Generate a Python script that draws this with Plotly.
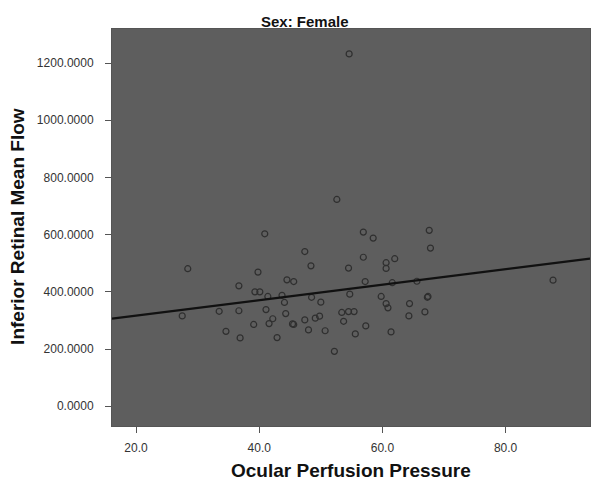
import plotly.graph_objects as go
import numpy as np

# Ocular Perfusion Pressure (x) and Inferior Retinal Mean Flow (y)
opp = [54.6, 52.6, 40.9, 47.4, 48.4, 56.9, 58.5, 67.6, 67.8, 56.9,
       60.6, 62.0, 60.6, 54.5, 28.4, 39.8, 44.5, 45.6, 36.7, 57.2,
       61.6, 65.6, 87.7, 39.3, 40.1, 41.4, 43.7, 44.1, 48.5, 50.0,
       54.7, 59.8, 60.6, 60.9, 64.4, 67.3, 67.4, 27.5, 33.5, 36.7,
       41.1, 44.3, 42.2, 41.6, 39.1, 45.4, 45.6, 47.4, 49.1, 49.8,
       53.4, 54.5, 55.4, 53.7, 64.3, 66.9, 34.6, 36.9, 42.9, 48.0,
       50.7, 55.6, 57.3, 61.4, 52.2]
flow = [1232, 723, 603, 541, 491, 609, 588, 615, 553, 521,
        502, 516, 482, 483, 481, 469, 442, 436, 421, 436,
        432, 437, 441, 400, 400, 384, 388, 363, 381, 364,
        392, 384, 359, 344, 359, 381, 384, 316, 332, 334,
        338, 324, 306, 289, 286, 288, 286, 302, 308, 315,
        328, 331, 331, 297, 316, 330, 262, 239, 240, 267,
        264, 253, 281, 260, 192]

# Fit line
fit_intercept = 262.5
fit_slope = 2.71

x_range = [16.1, 93.7]
y_range = [-69, 1319]

fit_x = np.array(x_range)
fit_y = fit_intercept + fit_slope * fit_x

fig = go.Figure()
fig.add_trace(go.Scatter(
    x=opp, y=flow, mode="markers",
    marker=dict(symbol="circle-open", size=6, color="#2f2f2f", line=dict(width=1.2)),
    showlegend=False, hoverinfo="x+y"))
fig.add_trace(go.Scatter(
    x=fit_x, y=fit_y, mode="lines",
    line=dict(color="#111111", width=2.2),
    showlegend=False, hoverinfo="skip"))

axis_common = dict(showgrid=False, zeroline=False, ticks="outside", ticklen=6,
                   tickwidth=1, tickcolor="#555555", showline=True, linecolor="#555555",
                   linewidth=1, mirror=True, automargin=False,
                   tickfont=dict(family="Liberation Sans, Arial", size=12, color="#333333"))

fig.update_layout(
    width=592, height=480,
    margin=dict(l=112, r=2, t=29, b=54),
    paper_bgcolor="white", plot_bgcolor="#5e5e5e",
    xaxis=dict(range=x_range, tickvals=[20, 40, 60, 80], tickformat=".1f",
               ticklabelstandoff=5, **axis_common),
    yaxis=dict(range=y_range, tickvals=[0, 200, 400, 600, 800, 1000, 1200], tickformat=".4f",
               ticklabelstandoff=9, **axis_common),
    annotations=[
        dict(text="<b>Sex: Female</b>", xref="paper", yref="paper", x=0.404, y=1.02,
             xanchor="center", yanchor="middle", showarrow=False,
             font=dict(family="Liberation Sans Narrow, Arial Narrow, Liberation Sans", size=15, color="#111111")),
        dict(text="<b>Ocular Perfusion Pressure</b>", xref="paper", yref="paper", x=0.5, y=-0.111,
             xanchor="center", yanchor="middle", showarrow=False,
             font=dict(family="Liberation Sans, Arial", size=19, color="#111111")),
        dict(text="<b>Inferior Retinal Mean Flow</b>", xref="paper", yref="paper", x=-0.1967, y=0.504,
             xanchor="center", yanchor="middle", showarrow=False, textangle=-90,
             font=dict(family="Liberation Sans, Arial", size=19, color="#111111")),
    ],
)

fig.write_html("out.html", config={"displayModeBar": False},
               post_script="document.body.style.margin='0';document.body.style.padding='0';")
